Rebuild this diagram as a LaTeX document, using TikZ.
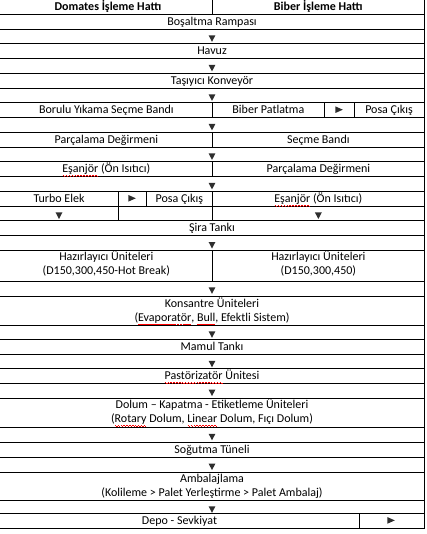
\documentclass[tikz,border=0pt]{standalone}
\usepackage{fontspec}
\setmainfont{Carlito}
\newsavebox\splbox
\newcommand\spl[1]{\sbox\splbox{#1}\rlap{\usebox\splbox}{\color{red}\hbox to \wd\splbox{\xleaders\hbox{\vrule width 1.4pt height -2.5pt depth 3.2pt\vrule width 1.4pt height -3.3pt depth 4.0pt}\hfill}}}
\newcommand\dn[2]{\fill[tri] ({#1-3.4},{#2+6.3}) -- ({#1+3.4},{#2+6.3}) -- ({#1},{#2+12.8}) -- cycle;}
\newcommand\rt[2]{\fill[tri] ({#1-3.6},{#2+3.6}) -- ({#1-3.6},{#2+10.2}) -- ({#1+3.8},{#2+6.9}) -- cycle;}
\tikzset{
  grid/.style={line width=0.9pt, black},
  tri/.style={fill=black!82},
  lbl/.style={anchor=base, inner sep=0pt, font=\fontsize{12}{14}\selectfont},
  hdr/.style={lbl, font=\fontsize{12}{14}\selectfont\bfseries},
}
\begin{document}
\begin{tikzpicture}[x=1pt,y=-1pt]
\useasboundingbox (0,0) rectangle (426,534);
% horizontal rules
\foreach \y in {14.3,29.0,43.8,58.6,73.3,88.1,102.8,117.6,132.4,147.1,161.9,176.6,191.4,206.2,220.9,235.7,250.4,281.0,296.5,325,339.3,354.5,368.5,383.3,398,427.5,442,457.3,472,500,513.5,528.5}
  \draw[grid] (0,\y) -- (424,\y);
% right border
\draw[grid] (424,-1) -- (424,528.5);
% centre dividers
\draw[grid] (212.7,-1) -- (212.7,14.3);
\draw[grid] (212.7,102.8) -- (212.7,117.6);
\draw[grid] (212.7,132.4) -- (212.7,147.1);
\draw[grid] (212.7,161.9) -- (212.7,176.6);
\draw[grid] (212.7,191.4) -- (212.7,220.9);
\draw[grid] (212.7,250.4) -- (212.7,281.0);
% sub-cell dividers
\draw[grid] (324,102.8) -- (324,117.6);
\draw[grid] (354,102.8) -- (354,117.6);
\draw[grid] (118,191.4) -- (118,220.9);
\draw[grid] (146,191.4) -- (146,206.2);
\draw[grid] (359,513.5) -- (359,528.5);
% header
\node[hdr] (h1) at (108,10.5) {Domates İşleme Hattı};
\node[hdr] (h2) at (318.35,10.5) {Biber İşleme Hattı};
% rows
\node[lbl] (t1) at (212,25.3) {Boşaltma Rampası};
\dn{212}{29.0}
\node[lbl] (t2) at (212,54.8) {Havuz};
\dn{212}{58.6}
\node[lbl] (t3) at (212,84.3) {Taşıyıcı Konveyör};
\dn{212}{88.1}
\node[lbl] (t4a) at (106.35,113.8) {Borulu Yıkama Seçme Bandı};
\node[lbl] (t4b) at (268.35,113.8) {Biber Patlatma};
\rt{339}{102.8}
\node[lbl] (t4c) at (389,113.8) {Posa Çıkış};
\dn{212}{117.6}
\node[lbl] (t5a) at (106.35,143.4) {Parçalama Değirmeni};
\node[lbl] (t5b) at (318.35,143.4) {Seçme Bandı};
\dn{212}{147.1}
\node[lbl] (t6a) at (106.35,172.9) {\spl{Eşanjör} (Ön Isıtıcı)};
\node[lbl] (t6b) at (318.35,172.9) {Parçalama Değirmeni};
\dn{212}{176.6}
\node[lbl] (t7a) at (59,202.4) {Turbo Elek};
\rt{132}{191.4}
\node[lbl] (t7b) at (179.35,202.4) {Posa Çıkış};
\node[lbl] (t7c) at (318.35,202.4) {\spl{Eşanjör} (Ön Isıtıcı)};
\dn{59}{206.2}
\dn{318.35}{206.2}
\node[lbl] (t8) at (212,231.9) {Şira Tankı};
\dn{212}{235.7}
\node[lbl] (t9a) at (106.35,260.9) {Hazırlayıcı Üniteleri};
\node[lbl] (t9b) at (106.35,274.9) {(D150,300,450-Hot Break)};
\node[lbl] (t9c) at (318.35,260.9) {Hazırlayıcı Üniteleri};
\node[lbl] (t9d) at (318.35,274.9) {(D150,300,450)};
\dn{212}{281.0}
\node[lbl] (t10a) at (212,307) {Konsantre Üniteleri};
\node[lbl] (t10b) at (212,321) {(\spl{Evaporatör}, \spl{Bull}, Efektli Sistem)};
\dn{212}{325}
\node[lbl] (t11) at (212,350.3) {Mamul Tankı};
\dn{212}{354.5}
\node[lbl] (t12) at (212,379.5) {\spl{Pastörizatör} Ünitesi};
\dn{212}{383.3}
\node[lbl] (t13a) at (212,408.5) {Dolum – Kapatma - Etiketleme Üniteleri};
\node[lbl] (t13b) at (212,422.5) {(\spl{Rotary} Dolum, \spl{Linear} Dolum, Fıçı Dolum)};
\dn{212}{427.5}
\node[lbl] (t14) at (212,453) {Soğutma Tüneli};
\dn{212}{457.3}
\node[lbl] (t15a) at (212,482.5) {Ambalajlama};
\node[lbl] (t15b) at (212,496.5) {(Kolileme > Palet Yerleştirme > Palet Ambalaj)};
\dn{212}{500}
\node[lbl] (t16) at (179.5,524.5) {Depo - Sevkiyat};
\rt{391}{513.5}
\end{tikzpicture}
\end{document}
